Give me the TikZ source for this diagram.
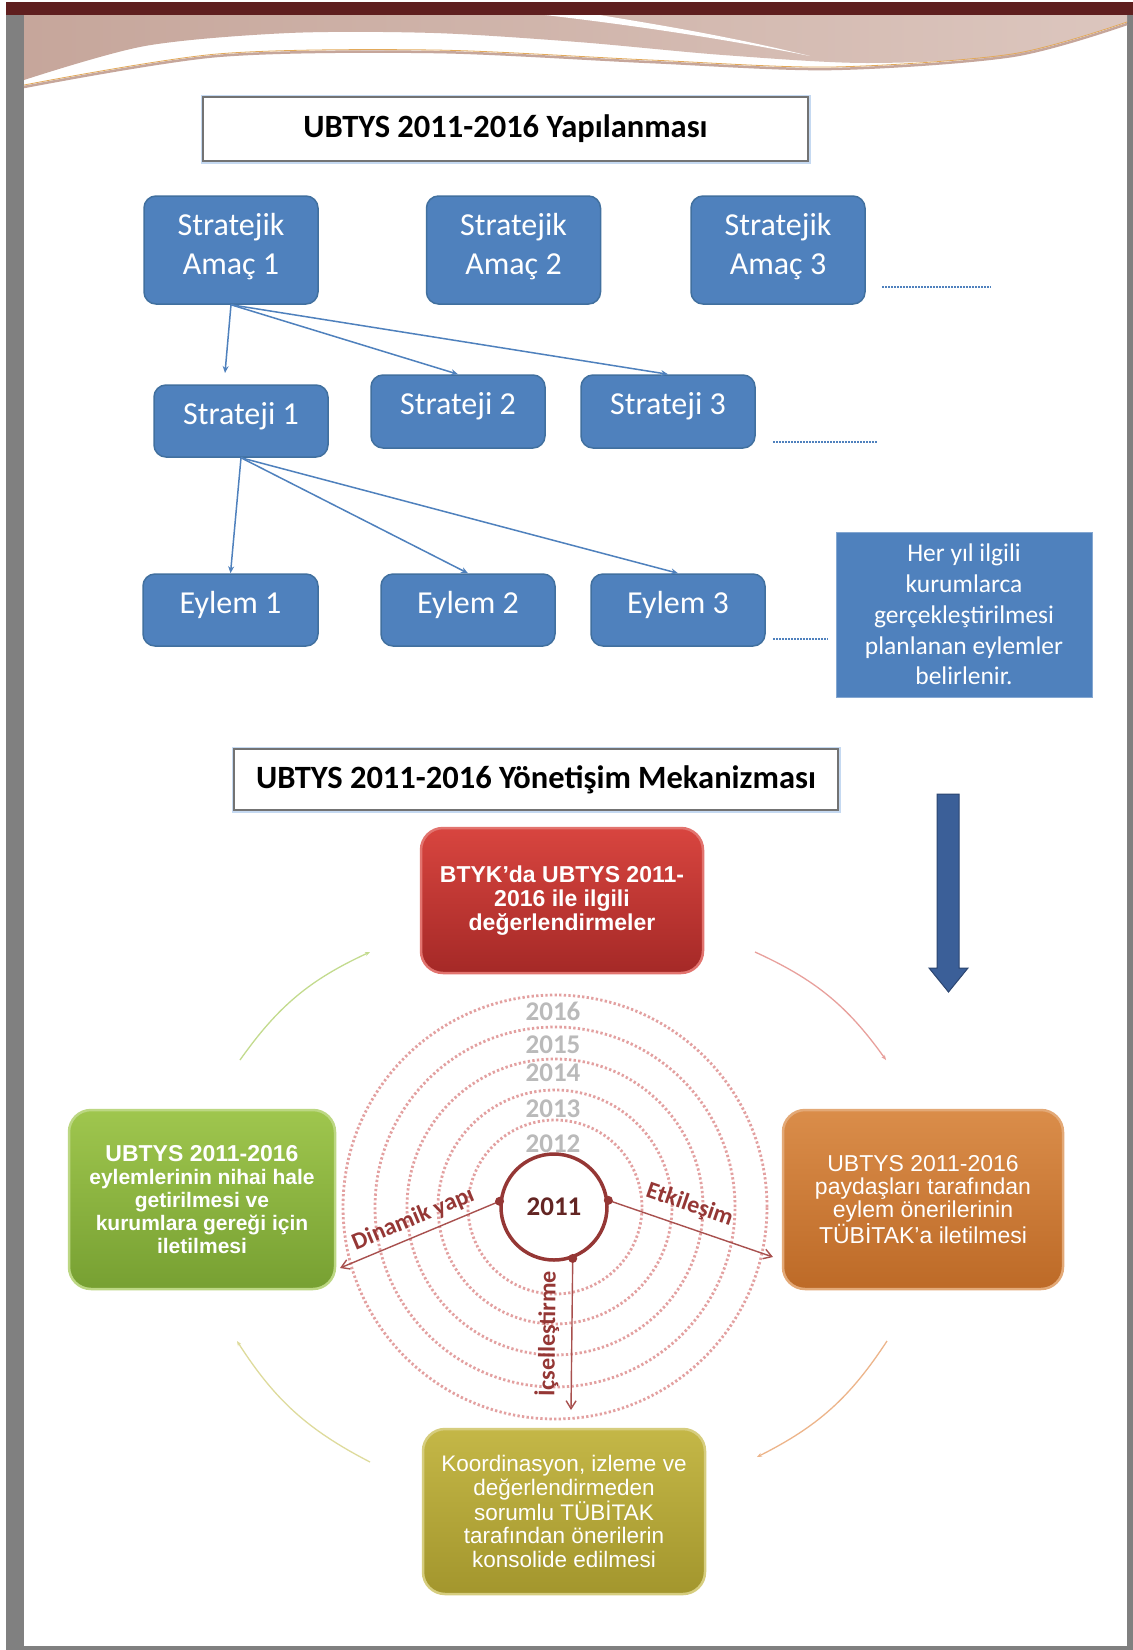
\documentclass[tikz,border=0pt]{standalone}
\usepackage{fontspec}
\setmainfont{Carlito}
\newfontfamily\arialf{Liberation Sans}
\usetikzlibrary{arrows.meta}

\definecolor{bandred}{HTML}{5F1F1F}
\definecolor{framegray}{HTML}{808080}
\definecolor{wavepinkL}{HTML}{C6A69B}
\definecolor{wavepinkR}{HTML}{DCC6BE}
\definecolor{wavegold}{HTML}{E2A95A}
\definecolor{ublue}{HTML}{4F81BD}
\definecolor{ubluedk}{HTML}{41709F}
\definecolor{titleblue}{HTML}{C5D9F1}
\definecolor{arrowblue}{HTML}{3B5F98}
\definecolor{arrowbluedk}{HTML}{2B4570}
\definecolor{redtop}{HTML}{D8453F}
\definecolor{redbot}{HTML}{A52927}
\definecolor{greentop}{HTML}{9FC64E}
\definecolor{greenbot}{HTML}{77A032}
\definecolor{orangetop}{HTML}{DA8D4A}
\definecolor{orangebot}{HTML}{BD6A27}
\definecolor{olivetop}{HTML}{C4B747}
\definecolor{olivebot}{HTML}{A3962D}
\definecolor{dotred}{HTML}{E3A0A0}
\definecolor{ringred}{HTML}{953735}
\definecolor{yeartext}{HTML}{632523}
\definecolor{arrowred}{HTML}{A8504E}
\definecolor{arcgreen}{HTML}{C3DB8E}
\definecolor{arcred}{HTML}{E8A09C}
\definecolor{arcorange}{HTML}{EDB58A}
\definecolor{arcyellow}{HTML}{DEDB9C}

\tikzset{
  titlebox/.style={draw=black!55, line width=1.6pt, fill=white,
    preaction={draw=titleblue, line width=5pt},
    font=\bfseries\fontsize{32.5}{38}\selectfont, inner sep=0pt},
  bluebox/.style={rounded corners=12pt, fill=ublue, draw=ubluedk, line width=1.5pt,
    text=white, font=\fontsize{32}{39}\selectfont, align=center, inner sep=0pt},
  onelinebox/.style={bluebox, text depth=16pt},
  twolinebox/.style={bluebox, text depth=13pt},
  infobox/.style={fill=ublue, draw=ublue!70!white, line width=1pt, text=white,
    font=\fontsize{25.5}{30.8}\selectfont, align=center, inner sep=0pt},
  treearrow/.style={draw=ublue, line width=1.5pt, -{Stealth[length=7pt,width=6pt]}},
  dotline/.style={draw=ublue, line width=2.5pt, dash pattern=on 1.5pt off 1.5pt},
  procbox/.style={rounded corners=22pt, line width=2.5pt, text=white, align=center,
    inner sep=0pt, font=\arialf\fontsize{22.5}{23.6}\selectfont},
  ringdots/.style={draw=dotred, line width=2.8pt, dash pattern=on 2.3pt off 2.3pt},
  yearlbl/.style={text=black!27, font=\bfseries\fontsize{27}{30}\selectfont, inner sep=0pt},
  flowarrow/.style={draw=arrowred, line width=1.4pt, -{Straight Barb[length=8pt,width=10pt]}},
  arrlbl/.style={text=ringred, font=\bfseries\fontsize{24}{28}\selectfont, inner sep=1pt},
  cyclearc/.style={line width=1.3pt, -{Stealth[length=5pt,width=4pt]}}
}

\begin{document}
\begin{tikzpicture}[x=1pt,y=-1pt]
\useasboundingbox (0,0) rectangle (1133,1650);
\fill[white] (0,0) rectangle (1133,1650);

% page frame
\fill[framegray] (6,15) rectangle (24,1650);
\fill[framegray] (1127,15) rectangle (1133,1650);
\fill[framegray] (6,1646) rectangle (1133,1650);
\fill[bandred] (6,2) rectangle (1133,15);

% header wave
\shade[left color=wavepinkL, right color=wavepinkR]
  (24,15) -- (1127,15) -- plot[smooth] coordinates {(1127,22) (1012,55) (867,63) (723,55) (578,42) (434,33) (289,33) (145,46) (24,80)} -- cycle;
\fill[white] (545,15) .. controls (640,26) and (730,40) .. (810,56) .. controls (720,34) and (640,22) .. (600,15) -- cycle;
\draw[wavepinkL, line width=2.5pt] plot[smooth] coordinates {(24,87) (217,56) (434,52) (650,62) (831,69) (1012,56) (1127,24)};
\draw[wavegold, line width=0.8pt] plot[smooth] coordinates {(24,85) (217,54) (434,50) (650,60) (831,67) (1012,54) (1127,22)};

% ---------- upper structure ----------
\node[titlebox, minimum width=605pt, minimum height=64pt] (t1) at (505.5,129) {UBTYS 2011-2016 Yapılanması};

\node[twolinebox, minimum width=174pt, minimum height=108pt] (a1) at (231,250) {Stratejik\\Amaç 1};
\node[twolinebox, minimum width=174pt, minimum height=108pt] (a2) at (513.5,250) {Stratejik\\Amaç 2};
\node[twolinebox, minimum width=174pt, minimum height=108pt] (a3) at (778,250) {Stratejik\\Amaç 3};

\node[onelinebox, minimum width=174pt, minimum height=72pt] (s1) at (241,421) {Strateji 1};
\node[onelinebox, minimum width=174pt, minimum height=73pt] (s2) at (458,411.5) {Strateji 2};
\node[onelinebox, minimum width=174pt, minimum height=73pt] (s3) at (668,411.5) {Strateji 3};

\node[onelinebox, minimum width=175pt, minimum height=72pt] (e1) at (230.5,610) {Eylem 1};
\node[onelinebox, minimum width=174pt, minimum height=72pt] (e2) at (468,610) {Eylem 2};
\node[onelinebox, minimum width=174pt, minimum height=72pt] (e3) at (678,610) {Eylem 3};

\node[infobox, minimum width=256pt, minimum height=165pt] (info) at (964,614.5)
  {Her yıl ilgili\\kurumlarca\\gerçekleştirilmesi\\planlanan eylemler\\belirlenir.};

\coordinate (s1top) at (225,373);
\draw[treearrow] (a1.south) -- (s1top);
\draw[treearrow] (a1.south) -- (s2.north);
\draw[treearrow] (a1.south) -- (s3.north);
\draw[treearrow] (s1.south) -- (e1.north);
\draw[treearrow] (s1.south) -- (e2.north);
\draw[treearrow] (s1.south) -- (e3.north);

\coordinate (d1a) at (882,287); \coordinate (d1b) at (991,287);
\coordinate (d2a) at (773,442); \coordinate (d2b) at (878,442);
\coordinate (d3a) at (773,639); \coordinate (d3b) at (828,639);
\draw[dotline] (d1a) -- (d1b);
\draw[dotline] (d2a) -- (d2b);
\draw[dotline] (d3a) -- (d3b);

% ---------- lower structure ----------
\node[titlebox, minimum width=604pt, minimum height=61pt] (t2) at (536,779.5) {UBTYS 2011-2016 Yönetişim Mekanizması};

% big down arrow
\filldraw[fill=arrowblue, draw=arrowbluedk, line width=1pt]
  (937,794) -- (959,794) -- (959,968) -- (968,968) -- (948.5,992) -- (929,968) -- (937,968) -- cycle;

\node[procbox, top color=redtop, bottom color=redbot, draw=redtop!75!white,
      font=\arialf\bfseries\fontsize{23}{23.7}\selectfont,
      minimum width=282pt, minimum height=145pt] (red) at (562,900.5)
  {BTYK’da UBTYS 2011-\\2016 ile ilgili\\değerlendirmeler};
\node[procbox, top color=greentop, bottom color=greenbot, draw=greentop!70!white,
      font=\arialf\bfseries\fontsize{21}{23.2}\selectfont,
      minimum width=266pt, minimum height=179pt] (green) at (202,1199.5)
  {{\fontsize{23}{23.2}\selectfont UBTYS 2011-2016}\\eylemlerinin nihai hale\\getirilmesi ve\\kurumlara gereği için\\iletilmesi};
\node[procbox, top color=orangetop, bottom color=orangebot, draw=orangetop!75!white,
      font=\arialf\fontsize{23}{23.2}\selectfont,
      minimum width=280pt, minimum height=179pt] (orange) at (923,1199.5)
  {UBTYS 2011-2016\\paydaşları tarafından\\eylem önerilerinin\\TÜBİTAK’a iletilmesi};
\node[procbox, top color=olivetop, bottom color=olivebot, draw=olivetop!70!white,
      font=\arialf\fontsize{22.5}{23.4}\selectfont,
      minimum width=282pt, minimum height=165pt] (olive) at (564,1511.5)
  {Koordinasyon, izleme ve\\değerlendirmeden\\sorumlu TÜBİTAK\\tarafından önerilerin\\konsolide edilmesi};

% cycle arcs
\coordinate (g1) at (240,1060); \coordinate (g2) at (370,952);
\coordinate (r1) at (755,952);  \coordinate (r2) at (886,1060);
\coordinate (o1) at (887,1341); \coordinate (o2) at (757,1457);
\coordinate (y1) at (370,1462); \coordinate (y2) at (237,1341);
\draw[cyclearc, arcgreen] (g1) to[bend left=15] (g2);
\draw[cyclearc, arcred] (r1) to[bend left=15] (r2);
\draw[cyclearc, arcorange] (o1) to[bend left=15] (o2);
\draw[cyclearc, arcyellow] (y1) to[bend left=15] (y2);

% concentric year rings
\coordinate (ctr) at (555,1207);
\foreach \r in {87,117,148,180,212}
  \draw[ringdots] (ctr) circle[radius=\r pt];

\node[yearlbl] (y16) at (553,1011) {2016};
\node[yearlbl] (y15) at (553,1045) {2015};
\node[yearlbl] (y14) at (553,1073) {2014};
\node[yearlbl] (y13) at (553,1109) {2013};
\node[yearlbl] (y12) at (553,1144) {2012};

\node[circle, draw=ringred, line width=3.5pt, fill=white, minimum size=106pt, inner sep=0pt,
      text=yeartext, font=\bfseries\fontsize{27}{30}\selectfont] (c0) at (554,1207) {2011};

\coordinate (tipL) at (340,1268);
\coordinate (tipR) at (773,1257);
\coordinate (tipD) at (571,1410);

\draw[flowarrow] (c0.174) -- node[arrlbl, sloped, above=5pt] {Dinamik yapı} (tipL);
\draw[flowarrow] (c0.7) -- node[arrlbl, sloped, above=10pt, pos=0.45] {Etkileşim} (tipR);
\draw[flowarrow] (c0.290) -- node[arrlbl, sloped, above=11pt] {İçselleştirme} (tipD);
\fill[ringred] (c0.174) circle[radius=4.5pt];
\fill[ringred] (c0.7) circle[radius=4.5pt];
\fill[ringred] (c0.290) circle[radius=4.5pt];

\end{tikzpicture}
\end{document}
